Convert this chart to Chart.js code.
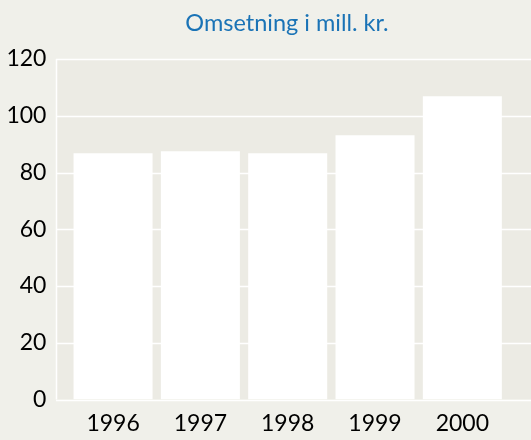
<!DOCTYPE html>
<html>
<head>
<meta charset="utf-8">
<script src="https://cdn.jsdelivr.net/npm/chart.js@4/dist/chart.umd.min.js"></script>
<style>
  html, body { margin: 0; padding: 0; background: #f0f0ea; }
  #wrap { width: 531px; height: 440px; position: relative; }
</style>
</head>
<body>
<div id="wrap"><canvas id="chart"></canvas></div>
<script>
"use strict";

// ── Data ─────────────────────────────────────────────────────────────────────
const years    = ["1996", "1997", "1998", "1999", "2000"];
const turnover = [86.8, 87.5, 86.8, 93.1, 106.9];
const yTicks   = [0, 20, 40, 60, 80, 100, 120];
const title    = "Omsetning i mill. kr.";

// ── Colours / fonts ──────────────────────────────────────────────────────────
const CLR = {
  page:  "#f0f0ea",
  plot:  "#ecebe4",
  grid:  "#ffffff",
  bar:   "#ffffff",
  title: "#1a73b6",
  text:  "#000000",
};
const FONT = "Lato, 'Open Sans', sans-serif";

// plot backdrop + gridlines reach past the category area (left 56 → right edge)
const plotBackdrop = {
  id: "plotBackdrop",
  beforeDatasetsDraw(chart) {
    const { ctx, scales } = chart;
    const left = 56, right = chart.width;
    const top = scales.y.getPixelForValue(120);
    const bottom = scales.y.getPixelForValue(0);
    ctx.save();
    ctx.fillStyle = CLR.plot;
    ctx.fillRect(left, top, right - left, bottom - top);
    ctx.strokeStyle = CLR.grid;
    ctx.lineWidth = 1.5;
    yTicks.forEach(v => {
      const y = Math.round(scales.y.getPixelForValue(v)) + 0.5;
      ctx.beginPath();
      ctx.moveTo(left, y);
      ctx.lineTo(right, y);
      ctx.stroke();
    });
    ctx.beginPath();
    ctx.moveTo(left + 0.5, top);
    ctx.lineTo(left + 0.5, bottom);
    ctx.stroke();
    ctx.restore();
  },
  // title sits over the whole plot box, not the category area
  afterDraw(chart) {
    const { ctx } = chart;
    ctx.save();
    ctx.fillStyle = CLR.title;
    ctx.font = `23.5px ${FONT}`;
    ctx.textAlign = "center";
    ctx.textBaseline = "middle";
    ctx.fillText(title, 287, 23);
    ctx.restore();
  },
};

new Chart(document.getElementById("chart"), {
  type: "bar",
  data: {
    labels: years,
    datasets: [{
      data: turnover,
      backgroundColor: CLR.bar,
      borderWidth: 0,
      categoryPercentage: 1,
      barPercentage: 0.905,
    }],
  },
  options: {
    responsive: true,
    maintainAspectRatio: false,
    animation: false,
    layout: { padding: { left: 0, right: 25, top: 59, bottom: 0 } },
    plugins: {
      legend: { display: false },
      tooltip: { enabled: false },
    },
    scales: {
      x: {
        grid: { display: false, drawTicks: false },
        border: { display: false },
        ticks: {
          color: CLR.text,
          padding: 10,
          maxRotation: 0,
          font: { family: FONT, size: 23 },
        },
        afterFit: s => { s.height = 40.5; },
      },
      y: {
        min: 0,
        max: 120,
        grid: { display: false, drawTicks: false },
        border: { display: false },
        afterBuildTicks: s => { s.ticks = yTicks.map(v => ({ value: v })); },
        ticks: {
          color: CLR.text,
          padding: 23,
          font: { family: FONT, size: 23 },
        },
        afterFit: s => { s.width = 69.4; },
      },
    },
  },
  plugins: [plotBackdrop],
});
</script>
</body>
</html>
